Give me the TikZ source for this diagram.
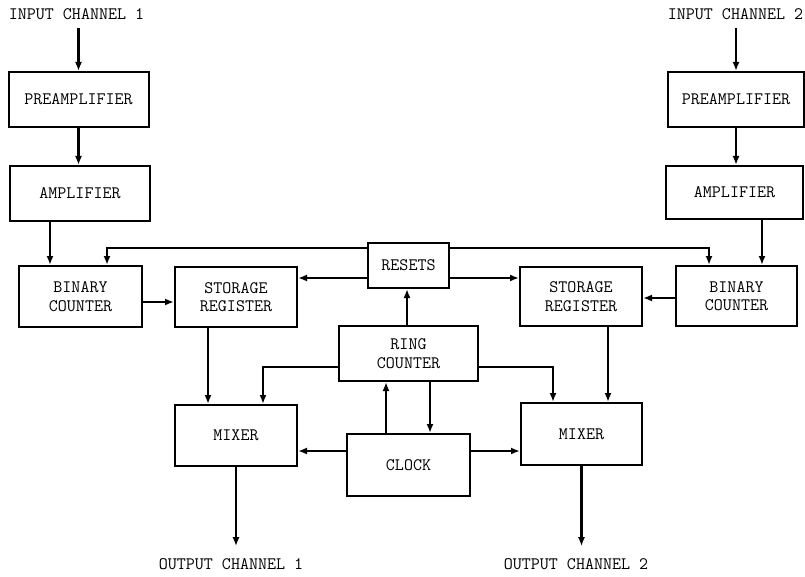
\documentclass[tikz,border=0pt]{standalone}
\usepackage{fontspec}
\usetikzlibrary{arrows.meta}
\begin{document}
\begin{tikzpicture}[x=1pt,y=-1pt,
  blk/.style={draw, line width=2pt, rectangle, inner sep=0pt, align=center,
    font=\ttfamily\fontsize{17.5}{18.5}\selectfont},
  lbl/.style={inner sep=1pt, font=\ttfamily\fontsize{17.5}{18.5}\selectfont},
  arr/.style={line width=2.4pt, -{Latex[length=9pt,width=7pt]}}]
\useasboundingbox (0,0) rectangle (805,577);

% texts
\node[lbl] (in1) at (76.5,14) {INPUT CHANNEL 1};
\node[lbl] (in2) at (735.5,14) {INPUT CHANNEL 2};
\node[lbl] (out1) at (231,564) {OUTPUT CHANNEL 1};
\node[lbl] (out2) at (576,564) {OUTPUT CHANNEL 2};

% blocks
\node[blk, minimum width=140pt, minimum height=55pt] (pre1) at (78.5,99.5) {PREAMPLIFIER};
\node[blk, minimum width=140pt, minimum height=55pt] (amp1) at (80,193.5) {AMPLIFIER};
\node[blk, minimum width=123pt, minimum height=61pt] (bin1) at (80.5,296.5) {BINARY\\COUNTER};
\node[blk, minimum width=122pt, minimum height=60pt] (sto1) at (236,297) {STORAGE\\REGISTER};
\node[blk, minimum width=81pt, minimum height=45pt] (res) at (408.5,265.5) {RESETS};
\node[blk, minimum width=122pt, minimum height=59pt] (sto2) at (581,296.5) {STORAGE\\REGISTER};
\node[blk, minimum width=121pt, minimum height=60pt] (bin2) at (736.5,296) {BINARY\\COUNTER};
\node[blk, minimum width=136pt, minimum height=55pt] (pre2) at (736,99.5) {PREAMPLIFIER};
\node[blk, minimum width=137pt, minimum height=53pt] (amp2) at (734.5,192.5) {AMPLIFIER};
\node[blk, minimum width=139pt, minimum height=55pt] (ring) at (408.5,353.5) {RING\\COUNTER};
\node[blk, minimum width=122pt, minimum height=61pt] (mix1) at (236,435.5) {MIXER};
\node[blk, minimum width=121pt, minimum height=62pt] (mix2) at (581.5,434) {MIXER};
\node[blk, minimum width=123pt, minimum height=62pt] (clock) at (408.5,465) {CLOCK};

% channel 1 chain
\draw[arr] ([yshift=-7pt]in1.south -| pre1.north) -- (pre1.north);
\draw[arr] (pre1.south) -- (pre1.south |- amp1.north);
\draw[arr] ([xshift=41pt]amp1.south west) -- ([xshift=32pt]bin1.north west);
\draw[arr] ([yshift=-5.5pt]bin1.east) -- ([yshift=-5.5pt]bin1.east -| sto1.west);

% channel 2 chain
\draw[arr] ([yshift=-7pt]in2.south -| pre2.north) -- (pre2.north);
\draw[arr] (pre2.south) -- (pre2.south |- amp2.north);
\draw[arr] ([xshift=97pt]amp2.south west) -- ([xshift=87pt]bin2.north west);
\draw[arr] ([yshift=-2pt]bin2.west) -- ([yshift=-2pt]bin2.west -| sto2.east);

% resets
\draw[arr] ([yshift=-6pt]res.north west) -| ([xshift=89pt]bin1.north west);
\draw[arr] ([yshift=-6pt]res.north east) -| ([xshift=34pt]bin2.north west);
\draw[arr] ([yshift=-12.5pt]res.west) -- ([yshift=-12.5pt]res.west -| sto1.east);
\draw[arr] ([yshift=-12.5pt]res.east) -- ([yshift=-12.5pt]res.east -| sto2.west);
\draw[arr] ([xshift=-1.5pt]ring.north) -- ([xshift=-1.5pt]res.south);

% storage to mixers
\draw[arr] ([xshift=-28pt]sto1.south) -- ([xshift=-28pt]sto1.south |- mix1.north);
\draw[arr] ([xshift=27pt]sto2.south) -- ([xshift=27pt]sto2.south |- mix2.north);

% ring counter to mixers
\draw[arr] ([yshift=-13.5pt]ring.west) -| ([xshift=27pt]mix1.north);
\draw[arr] ([yshift=-13.5pt]ring.east) -| ([xshift=-28.5pt]mix2.north);

% clock and ring
\draw[arr] ([xshift=-22.5pt]clock.north) -- ([xshift=-22.5pt]clock.north |- ring.south);
\draw[arr] ([xshift=21.5pt]ring.south) -- ([xshift=21.5pt]ring.south |- clock.north);
\draw[arr] ([yshift=14pt]clock.west) -- ([yshift=14pt]clock.west -| mix1.east);
\draw[arr] ([yshift=14pt]clock.east) -- ([yshift=14pt]clock.east -| mix2.west);

% outputs
\draw[arr] (mix1.south) -- ([yshift=11pt]mix1.south |- out1.north);
\draw[arr] (mix2.south) -- ([yshift=11pt]mix2.south |- out2.north);
\end{tikzpicture}
\end{document}
